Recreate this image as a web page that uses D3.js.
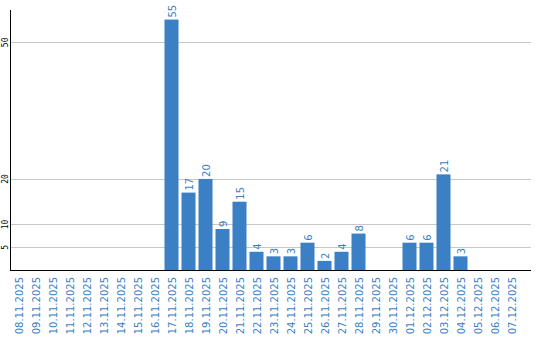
<!DOCTYPE html>
<html><head><meta charset="utf-8">
<script src="https://cdn.jsdelivr.net/npm/d3@7"></script>
<style>body{margin:0;background:#fff}svg{display:block}</style>
</head><body>
<script>
const dates = ["08.11.2025","09.11.2025","10.11.2025","11.11.2025","12.11.2025","13.11.2025","14.11.2025","15.11.2025","16.11.2025","17.11.2025","18.11.2025","19.11.2025","20.11.2025","21.11.2025","22.11.2025","23.11.2025","24.11.2025","25.11.2025","26.11.2025","27.11.2025","28.11.2025","29.11.2025","30.11.2025","01.12.2025","02.12.2025","03.12.2025","04.12.2025","05.12.2025","06.12.2025","07.12.2025"];
const values = [0,0,0,0,0,0,0,0,0,55,17,20,9,15,4,3,3,6,2,4,8,0,0,6,6,21,3,0,0,0];
const yTicks = [5,10,20,50];

const W = 540, H = 340;
const svg = d3.select("body").append("svg").attr("width", W).attr("height", H);
const x = d3.scaleBand().domain(dates).range([10, 520]).paddingInner(3/17).paddingOuter(1.5/17);
const y = d3.scaleLinear().domain([0, 57.1]).range([270, 10]);
const blue = "#3b7fc4";

// gridlines
svg.append("g").selectAll("line").data(yTicks).join("line")
  .attr("x1", 10).attr("x2", 531).attr("y1", d => Math.round(y(d)) + 0.5).attr("y2", d => Math.round(y(d)) + 0.5)
  .attr("stroke", "#c8c8c8").attr("stroke-width", 1);

// y tick labels
svg.append("g").selectAll("text").data(yTicks).join("text")
  .attr("transform", d => `translate(7.5,${y(d)}) rotate(-90)`)
  .attr("text-anchor", "middle")
  .attr("font-family", "DejaVu Sans Mono").attr("font-size", 8).attr("fill", "#000")
  .text(d => d);

// bars
const bd = dates.map((d, i) => ({d, v: values[i]}));
svg.append("g").selectAll("rect").data(bd.filter(e => e.v > 0)).join("rect")
  .attr("x", e => x(e.d)).attr("width", x.bandwidth())
  .attr("y", e => y(e.v)).attr("height", e => y(0) - y(e.v))
  .attr("fill", blue);

// value labels
svg.append("g").selectAll("text").data(bd.filter(e => e.v > 0)).join("text")
  .attr("transform", e => `translate(${x(e.d) + x.bandwidth()/2 + 4},${y(e.v) - 2}) rotate(-90)`)
  .attr("text-anchor", "start")
  .attr("font-family", "DejaVu Sans").attr("font-size", 10).attr("fill", blue)
  .text(e => e.v);

// axes lines
svg.append("line").attr("x1", 10.5).attr("x2", 10.5).attr("y1", 10).attr("y2", 271).attr("stroke", "#000");
svg.append("line").attr("x1", 10).attr("x2", 531).attr("y1", 270.5).attr("y2", 270.5).attr("stroke", "#000");

// x labels
svg.append("g").selectAll("text").data(dates).join("text")
  .attr("transform", d => `translate(${x(d) + x.bandwidth()/2 + 4},277) rotate(-90)`)
  .attr("text-anchor", "end")
  .attr("font-family", "DejaVu Sans").attr("font-size", 10).attr("fill", blue)
  .text(d => d);
</script>
</body></html>
